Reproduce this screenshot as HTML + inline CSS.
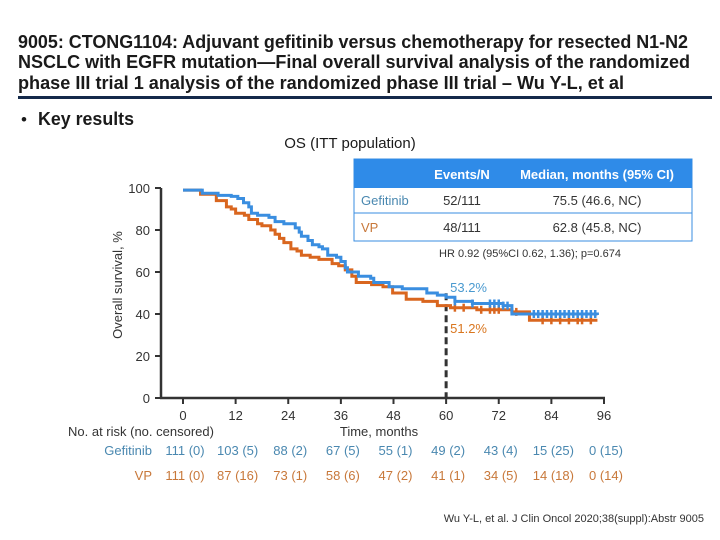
<!DOCTYPE html>
<html><head><meta charset="utf-8"><style>
html,body{margin:0;padding:0;background:#fff;}
svg{display:block;font-family:"Liberation Sans",sans-serif;}
</style></head><body>
<svg id="chart" width="720" height="540" viewBox="0 0 720 540">
<g font-family="'Liberation Sans',sans-serif" font-weight="bold" font-size="18" fill="#1a1a1a">
<text x="18" y="48" textLength="670" lengthAdjust="spacingAndGlyphs">9005: CTONG1104: Adjuvant gefitinib versus chemotherapy for resected N1-N2</text>
<text x="18" y="68" textLength="672" lengthAdjust="spacingAndGlyphs">NSCLC with EGFR mutation—Final overall survival analysis of the randomized</text>
<text x="18" y="89" textLength="606" lengthAdjust="spacingAndGlyphs">phase III trial 1 analysis of the randomized phase III trial – Wu Y-L, et al</text>
</g>
<rect x="18" y="96" width="694" height="3" fill="#14294a"/>
<text x="21" y="125" font-size="17" fill="#1a1a1a">•</text>
<text x="38" y="125" font-size="18" font-weight="bold" fill="#1a1a1a" textLength="96" lengthAdjust="spacingAndGlyphs">Key results</text>
<text x="350" y="148" font-size="15" text-anchor="middle" fill="#1a1a1a">OS (ITT population)</text>

<g font-size="13">
<rect x="354" y="159" width="338" height="82" fill="#fff" stroke="#3a8ee0" stroke-width="1"/>
<rect x="354" y="159" width="338" height="29" fill="#2f8be8"/>
<line x1="354" y1="213" x2="692" y2="213" stroke="#3a8ee0"/>
<text x="462" y="179" fill="#fff" font-weight="bold" text-anchor="middle">Events/N</text>
<text x="597" y="179" fill="#fff" font-weight="bold" text-anchor="middle">Median, months (95% CI)</text>
<text x="361" y="205" fill="#4a88b0">Gefitinib</text>
<text x="462" y="205" fill="#333" text-anchor="middle">52/111</text>
<text x="597" y="205" fill="#333" text-anchor="middle">75.5 (46.6, NC)</text>
<text x="361" y="232" fill="#c8783a">VP</text>
<text x="462" y="232" fill="#333" text-anchor="middle">48/111</text>
<text x="597" y="232" fill="#333" text-anchor="middle">62.8 (45.8, NC)</text>
<text x="530" y="257" fill="#333" font-size="11" text-anchor="middle">HR 0.92 (95%CI 0.62, 1.36); p=0.674</text>
</g>

<g id="axes"></g>
<g id="marks"></g>

<text x="122" y="285" font-size="13" fill="#333" text-anchor="middle" transform="rotate(-90 122 285)">Overall survival, %</text>
<text x="379" y="436" font-size="13" fill="#333" text-anchor="middle">Time, months</text>
<text x="68" y="436" font-size="13" fill="#333">No. at risk (no. censored)</text>
<text x="152" y="455" font-size="13" fill="#4a88b0" text-anchor="end">Gefitinib</text>
<text x="152" y="480" font-size="13" fill="#c8783a" text-anchor="end">VP</text>
<g id="risk"></g>
<text x="704" y="522" font-size="11" fill="#333" text-anchor="end">Wu Y-L, et al. J Clin Oncol 2020;38(suppl):Abstr 9005</text>
</svg>
<script>
const xTicks = [0,12,24,36,48,60,72,84,96];
const yTicks = [0,20,40,60,80,100];
const gefTimes = [0,4.4,8,11,12.5,13.8,15,15.6,17,19.6,21,23,25.6,26.5,27,28.5,29.5,31,31.8,33,35,36,37,37.5,40,42.8,43.5,47,50,54,55.6,58,60,62,66,70,73,75,94.5];
const gefSurv  = [99,97.5,96.5,96,95,93,91,88,87,86,84,83,81,79,77,75,73,72,71,68,67,65,62,60,58,57,55,53,52,52,50,49,48,46,45,45,44,40,39.5];
const vpTimes  = [0,4,7.6,9.9,11,12,14,15,17,18,20,21,22,23,24.6,26,27,29,31,34,35.5,37,38.5,39.5,43,45.6,47.8,50.9,54.7,58,61,67,73,75,78,79,94.5];
const vpSurv   = [99,97,94,91,90,88,87,85,83,82,80,78,76,74,71,70,68,67,66,64,63,61,58,55,54,53,50,47,46,44,43,42,42,41,41,37,37];
const gefCensor = [62,66,70,71,72,73,74,80,81,82,83,84,85,86,87,88,89,90,91,92,93,94];
const vpCensor  = [62,64,68,70,71,72,76,82,84,86,88,90,91,93];
const gefRisk = ["111 (0)","103 (5)","88 (2)","67 (5)","55 (1)","49 (2)","43 (4)","15 (25)","0 (15)"];
const vpRisk  = ["111 (0)","87 (16)","73 (1)","58 (6)","47 (2)","41 (1)","34 (5)","14 (18)","0 (14)"];
const landmarkMonth = 60;
const gefLandmark = "53.2%", vpLandmark = "51.2%";

const X = m => 183 + m * (604 - 183) / 96;
const Y = v => 398 - v * 2.1;
const NS = "http://www.w3.org/2000/svg";
function mk(tag, attrs, parent, text){const e=document.createElementNS(NS,tag);for(const k in attrs)e.setAttribute(k,attrs[k]);if(text!==undefined)e.textContent=text;parent.appendChild(e);return e;}
const axes=document.getElementById('axes'), marks=document.getElementById('marks'), risk=document.getElementById('risk');

let e = mk('line',{x1:161,y1:Y(100),x2:161,y2:398,stroke:'#333','stroke-width':2.5},axes);


e = mk('line',{x1:160,y1:398,x2:605,y2:398,stroke:'#333','stroke-width':2.5},axes);


yTicks.forEach(v=>{
  mk('line',{x1:155,y1:Y(v),x2:161,y2:Y(v),stroke:'#333','stroke-width':2},axes);
  const t=mk('text',{x:150,y:Y(v)+5,'font-size':13,fill:'#333','text-anchor':'end'},axes,String(v));
  
  
});
xTicks.forEach(m=>{
  mk('line',{x1:X(m),y1:398,x2:X(m),y2:404,stroke:'#333','stroke-width':2},axes);
  const t=mk('text',{x:X(m),y:420,'font-size':13,fill:'#333','text-anchor':'middle'},axes,String(m));
  
  
});

function stepPath(ts,ss){let d='M'+X(ts[0])+' '+Y(ss[0]);for(let i=1;i<ts.length;i++){d+=' H'+X(ts[i])+' V'+Y(ss[i]);}return d;}
function survAt(ts,ss,m){let v=ss[0];for(let i=0;i<ts.length;i++){if(ts[i]<=m)v=ss[i];}return v;}

e = mk('line',{x1:X(landmarkMonth),y1:Y(48)-4,x2:X(landmarkMonth),y2:398,stroke:'#333','stroke-width':3,'stroke-dasharray':'7,4'},marks);



e = mk('path',{d:stepPath(vpTimes,vpSurv),fill:'none',stroke:'#d9661f','stroke-width':3},marks);


vpCensor.forEach(m=>{const y=Y(survAt(vpTimes,vpSurv,m));const c=mk('line',{x1:X(m),y1:y-4,x2:X(m),y2:y+4,stroke:'#d9661f','stroke-width':2.5},marks);
  
  });
e = mk('path',{d:stepPath(gefTimes,gefSurv),fill:'none',stroke:'#3a8ee0','stroke-width':3},marks);


gefCensor.forEach(m=>{const y=Y(survAt(gefTimes,gefSurv,m));const c=mk('line',{x1:X(m),y1:y-4,x2:X(m),y2:y+4,stroke:'#3a8ee0','stroke-width':2.5},marks);
  
  });

e = mk('text',{x:X(landmarkMonth)+4,y:292,'font-size':13,fill:'#4a9ad0'},marks,gefLandmark);


e = mk('text',{x:X(landmarkMonth)+4,y:333,'font-size':13,fill:'#d9761f'},marks,vpLandmark);



xTicks.forEach((m,i)=>{
  let t=mk('text',{x:X(m)+2,y:455,'font-size':13,fill:'#4a88b0','text-anchor':'middle'},risk,gefRisk[i]);
  
  
  t=mk('text',{x:X(m)+2,y:480,'font-size':13,fill:'#c8783a','text-anchor':'middle'},risk,vpRisk[i]);
  
  
});
</script>
</body></html>
